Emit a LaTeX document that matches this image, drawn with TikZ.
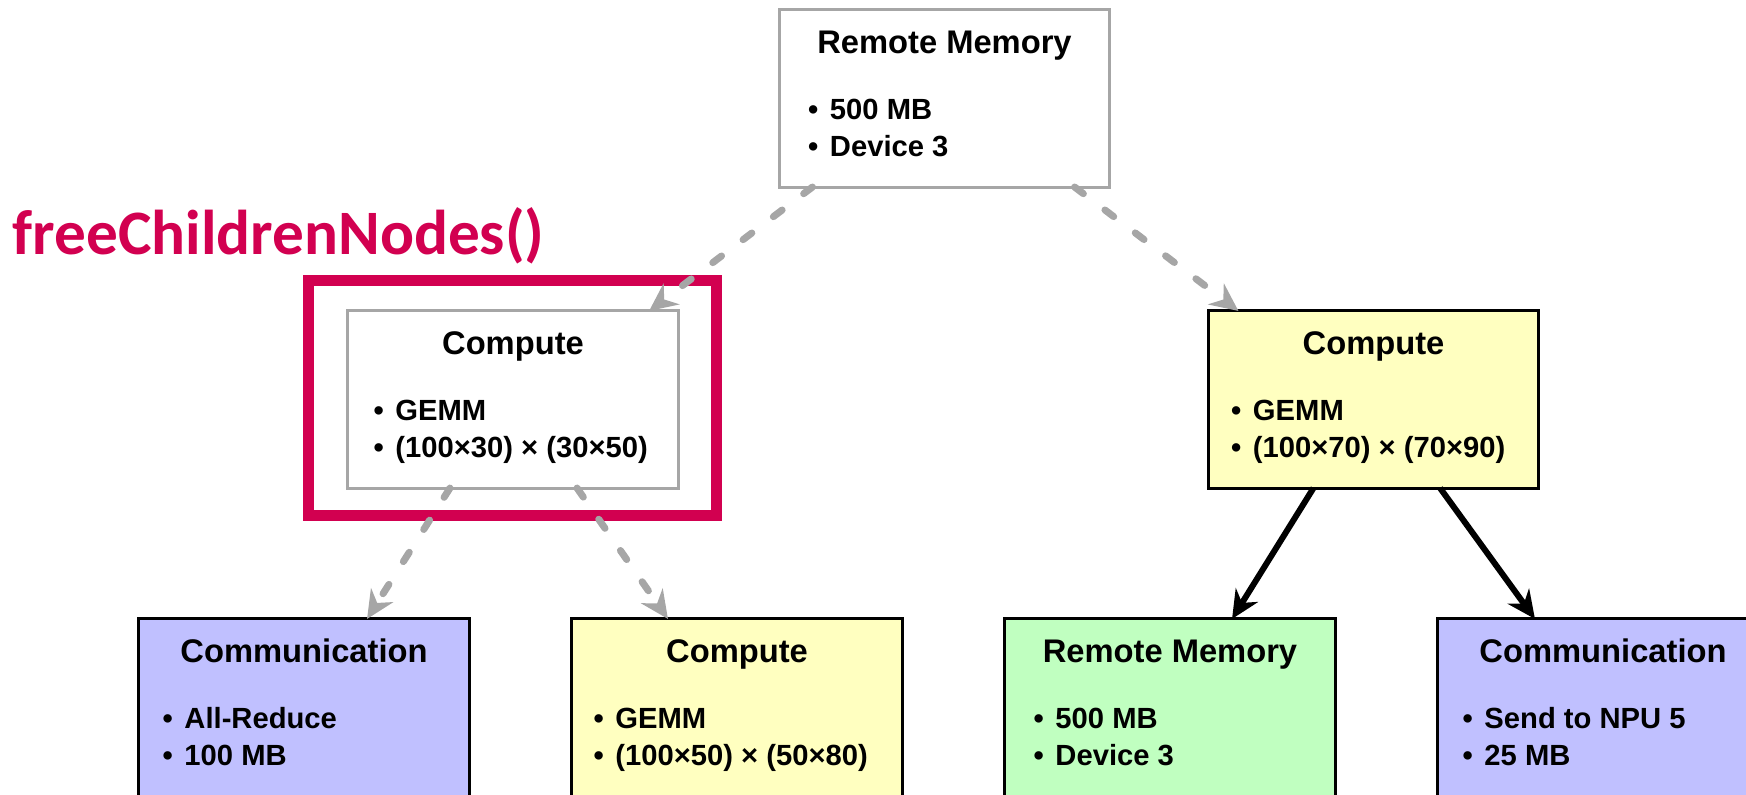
\documentclass[tikz,border=0pt]{standalone}
\usepackage{fontspec}
\setmainfont{Liberation Sans}
\newfontfamily\carlito{Carlito}
\usetikzlibrary{arrows.meta}

\begin{document}
\begin{tikzpicture}[x=0.01cm,y=-0.01cm,>={Stealth[length=0.28cm,width=0.26cm]}]
\tikzset{
  card/.style={draw, line width=0.03cm, minimum width=3.3cm, minimum height=1.77cm, inner sep=0pt, outer sep=0pt},
  cardtitle/.style={anchor=base, inner sep=0pt, font=\fontsize{9.3}{11}\selectfont\bfseries},
  cardline/.style={anchor=base west, inner sep=0pt, font=\fontsize{8.3}{10}\selectfont\bfseries},
  freed/.style={->, draw=edgegray, line width=0.07cm, line cap=round, dash pattern=on 0.11cm off 0.27cm},
  kept/.style={->, draw=black, line width=0.06cm},
  hilite/.style={draw=hilitered, line width=0.11cm}
}

\definecolor{edgegray}{RGB}{166,166,166}
\definecolor{cmpyellow}{RGB}{255,255,192}
\definecolor{commblue}{RGB}{192,192,255}
\definecolor{rmgreen}{RGB}{192,255,192}
\definecolor{hilitered}{RGB}{210,0,80}

\clip (0,0) rectangle (1746,795);

% boxes: name/x/y/fill/border/indent/title/line 1/line 2
\foreach \n/\x/\y/\f/\d/\o/\t/\a/\b in {
  rmTop/944.5/98.5/white/edgegray/28/Remote Memory/500 MB/Device 3,
  cmpL/513/399.5/white/edgegray/25/Compute/GEMM/(100×30) × (30×50),
  cmpR/1373.5/399.5/cmpyellow/black/22/Compute/GEMM/(100×70) × (70×90),
  commL/304/707.5/commblue/black/23/Communication/All-Reduce/100 MB,
  cmpB/737/707.5/cmpyellow/black/21/Compute/GEMM/(100×50) × (50×80),
  rmB/1170/707.5/rmgreen/black/28/Remote Memory/500 MB/Device 3,
  commR/1603/707.5/commblue/black/24/Communication/Send to NPU 5/25 MB}
{
  \node[card,fill=\f,draw=\d] (\n) at (\x,\y) {};
  \node[cardtitle] (\n-t) at ([yshift=-0.44cm]\n.north) {\t};
  \node[cardline] (\n-a) at ([xshift=\o*0.01cm,yshift=-1.095cm]\n.north west) {•\hspace{0.4em}\a};
  \node[cardline] (\n-b) at ([xshift=\o*0.01cm,yshift=-1.465cm]\n.north west) {•\hspace{0.4em}\b};
}

% freed subtree
\draw[hilite] ([xshift=-0.395cm,yshift=0.305cm]cmpL.north west) rectangle ([xshift=0.385cm,yshift=-0.275cm]cmpL.south east);
\node[anchor=base west, inner sep=0pt, text=hilitered, font=\carlito\bfseries\fontsize{18}{20}\selectfont] (fcnLabel) at (12,255) {freeChildrenNodes()};

% edges
\draw[freed] ([xshift=-1.32cm]rmTop.south) -- ([xshift=1.36cm]cmpL.north);
\draw[freed] ([xshift=1.30cm]rmTop.south) -- ([xshift=-1.35cm]cmpR.north);
\draw[freed] ([xshift=-0.63cm]cmpL.south) -- ([xshift=0.63cm]commL.north);
\draw[freed] ([xshift=0.64cm]cmpL.south) -- ([xshift=-0.69cm]cmpB.north);
\draw[kept] ([xshift=-0.60cm]cmpR.south) -- ([xshift=0.62cm]rmB.north);
\draw[kept] ([xshift=0.665cm]cmpR.south) -- ([xshift=-0.68cm]commR.north);
\end{tikzpicture}
\end{document}
